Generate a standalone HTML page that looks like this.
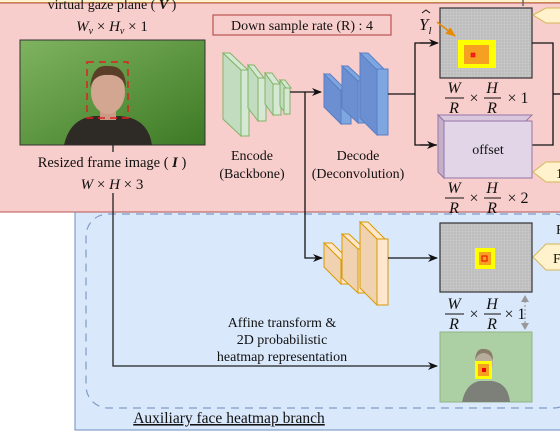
<!DOCTYPE html>
<html><head><meta charset="utf-8"><style>
html,body{margin:0;padding:0;width:560px;height:434px;overflow:hidden;background:#fff}
text{font-family:"Liberation Serif",serif;fill:#111}
</style></head><body>
<svg width="560" height="434" viewBox="0 0 560 434" xmlns="http://www.w3.org/2000/svg">
<defs>
<pattern id="grid" width="3" height="3" patternUnits="userSpaceOnUse">
<rect width="3" height="3" fill="#bdbdbd"/><path d="M0 0H3M0 0V3" stroke="#d0d0d0" stroke-width="0.8"/>
</pattern>
<linearGradient id="gr" x1="0" y1="0" x2="1" y2="1"><stop offset="0" stop-color="#7fb35f"/><stop offset="1" stop-color="#3d7a25"/></linearGradient>
<marker id="ar" markerWidth="10" markerHeight="8" refX="9" refY="4" orient="auto" markerUnits="userSpaceOnUse"><path d="M0 0L10 4L0 8L3 4Z" fill="#111"/></marker>
<marker id="ao" markerWidth="10" markerHeight="8" refX="9" refY="4" orient="auto" markerUnits="userSpaceOnUse"><path d="M0 0L10 4L0 8Z" fill="#e68a00"/></marker>
</defs>
<rect x="0" y="0" width="560" height="3" fill="#fff2cc"/>
<line x1="0" y1="2.5" x2="560" y2="2.5" stroke="#d6b656" stroke-width="1"/>
<rect x="-1" y="3" width="562" height="209" fill="#f8cecc" stroke="#b85450" stroke-width="1"/>
<rect x="75" y="212" width="490" height="218" fill="#dae8fc" stroke="#6c8ebf" stroke-width="1"/>
<rect x="86" y="214" width="490" height="194" rx="22" fill="none" stroke="#7f9cc6" stroke-width="1.2" stroke-dasharray="8 6"/>
<line x1="75" y1="212" x2="560" y2="212" stroke="#b85450"/>

<text x="112" y="9" font-size="14" text-anchor="middle">virtual gaze plane ( <tspan font-weight="bold" font-style="italic">V</tspan> )</text>
<text x="112" y="31" font-size="15" text-anchor="middle"><tspan font-style="italic">W<tspan font-size="10" dy="3">v</tspan></tspan><tspan dy="-3"> × </tspan><tspan font-style="italic">H<tspan font-size="10" dy="3">v</tspan></tspan><tspan dy="-3"> × 1</tspan></text>
<rect x="20" y="40" width="185" height="105" fill="url(#gr)" stroke="#333" stroke-width="1"/>
<path d="M64 145 Q70 118 95 116 L120 116 Q148 118 152 145 Z" fill="#2e2a25"/>
<rect x="100" y="108" width="16" height="12" fill="#c99a86"/>
<ellipse cx="108" cy="92" rx="17" ry="22" fill="#d2a691"/>
<path d="M90 88 Q92 64 108 66 Q126 65 126 88 Q122 74 108 75 Q94 74 90 88Z" fill="#5a3e28"/>
<rect x="87" y="62" width="41" height="56" fill="none" stroke="#e02020" stroke-width="1.5" stroke-dasharray="7 5"/>
<text x="112" y="167" font-size="14.5" text-anchor="middle">Resized frame image ( <tspan font-weight="bold" font-style="italic">I</tspan> )</text>
<text x="112" y="189" font-size="15" text-anchor="middle"><tspan font-style="italic">W</tspan> × <tspan font-style="italic">H</tspan> × 3</text>
<path d="M113 145V152M113 193V366H437" fill="none" stroke="#222" stroke-width="1.3" marker-end="url(#ar)"/>

<rect x="213" y="15" width="178" height="20" fill="none" stroke="#b85450" stroke-width="1.2"/>
<text x="302" y="30" font-size="14" text-anchor="middle">Down sample rate (R) : 4</text>

<g fill="#d5e8d4" stroke="#82b366" stroke-width="1">
<path d="M223 53L241 70V136L223 119Z" fill="#c2dcc0"/><path d="M223 53H230L248 70H241Z"/><rect x="241" y="70" width="8" height="66"/>
<path d="M248 65L258 78V121L248 108Z" fill="#c2dcc0"/><path d="M248 65H254L264 78H258Z"/><rect x="258" y="78" width="8" height="43"/>
<path d="M265 73L273 84V115L265 104Z" fill="#c2dcc0"/><path d="M265 73H272L280 84H273Z"/><rect x="273" y="84" width="8" height="31"/>
<path d="M280 80L286 88V114L280 106Z" fill="#c2dcc0"/><path d="M280 80H285L291 88H286Z"/><rect x="284" y="88" width="6" height="26"/>
</g>
<text x="252" y="160" font-size="14" text-anchor="middle">Encode</text>
<text x="252" y="178" font-size="14" text-anchor="middle">(Backbone)</text>
<path d="M290 92H321" stroke="#111" stroke-width="1.3" marker-end="url(#ar)"/>
<path d="M305 92V258H322" fill="none" stroke="#111" stroke-width="1.3" marker-end="url(#ar)"/>

<g fill="#7ea6e0" stroke="#5a7fc4" stroke-width="1">
<path d="M324 74L341 91V124L324 107Z" fill="#6b8fd0"/><path d="M324 74H330L347 91H341Z"/><rect x="341" y="90" width="10" height="34"/>
<path d="M342 66L358 81V123L342 108Z" fill="#6b8fd0"/><path d="M342 66H348L364 81H358Z"/><rect x="358" y="81" width="11" height="42"/>
<path d="M360 53L377 70V135L360 118Z" fill="#6b8fd0"/><path d="M360 53H368L385 70H377Z"/><rect x="377" y="69" width="11" height="66"/>
</g>
<text x="358" y="160" font-size="14" text-anchor="middle">Decode</text>
<text x="358" y="178" font-size="14" text-anchor="middle">(Deconvolution)</text>
<path d="M388 94H415V43H437M415 94V145H437" fill="none" stroke="#111" stroke-width="1.3"/>
<path d="M420 43H438" stroke="#111" stroke-width="1.3" marker-end="url(#ar)"/>
<path d="M420 145H436" stroke="#111" stroke-width="1.3" marker-end="url(#ar)"/>

<rect x="440" y="8" width="92" height="70" fill="url(#grid)" stroke="#333" stroke-width="1.2"/>
<rect x="458" y="40" width="38" height="28" fill="#ffff00"/>
<rect x="464" y="45" width="25" height="19" fill="#f5a020"/>
<rect x="471" y="53" width="4" height="4" fill="#ff2020" stroke="#d00" stroke-width="0.5"/>
<path d="M437 22L455 36" stroke="#e68a00" stroke-width="1.5" marker-end="url(#ao)"/>
<text x="419" y="30" font-size="17" font-style="italic">Y<tspan font-size="11" dy="4">l</tspan></text>
<path d="M422 13L426 10L430 13" fill="none" stroke="#111" stroke-width="1"/>
<line x1="523" y1="0" x2="523" y2="6" stroke="#666" stroke-width="1.5"/>
<path d="M532 43H553V145H532" fill="none" stroke="#111" stroke-width="1.3"/>
<path d="M553 94H560" stroke="#111" stroke-width="1.3"/>

<g font-size="16" text-anchor="middle" font-style="italic">
<text x="454" y="93">W</text><line x1="445" y1="98" x2="464" y2="98" stroke="#111"/><text x="454" y="113">R</text>
<text x="474" y="103" font-style="normal">×</text>
<text x="492" y="93">H</text><line x1="484" y1="98" x2="501" y2="98" stroke="#111"/><text x="492" y="113">R</text>
<text x="518" y="103" font-style="normal">× 1</text>

<text x="454" y="193">W</text><line x1="445" y1="198" x2="464" y2="198" stroke="#111"/><text x="454" y="213">R</text>
<text x="474" y="203" font-style="normal">×</text>
<text x="492" y="193">H</text><line x1="484" y1="198" x2="501" y2="198" stroke="#111"/><text x="492" y="213">R</text>
<text x="518" y="203" font-style="normal">× 2</text>

<text x="454" y="309">W</text><line x1="445" y1="314" x2="464" y2="314" stroke="#111"/><text x="454" y="329">R</text>
<text x="474" y="319" font-style="normal">×</text>
<text x="492" y="309">H</text><line x1="484" y1="314" x2="501" y2="314" stroke="#111"/><text x="492" y="329">R</text>
<text x="515" y="319" font-style="normal">× 1</text>
</g>

<path d="M438 115H532L526 121H444Z" fill="#d9c8dd" stroke="#9673a6"/>
<path d="M438 115L444 121V178L438 172Z" fill="#c5b0ca" stroke="#9673a6"/>
<rect x="444" y="121" width="88" height="57" fill="#e1d5e7" stroke="#9673a6"/>
<text x="488" y="154" font-size="14" text-anchor="middle">offset</text>

<g fill="#fff2cc" stroke="#d6b656">
<path d="M562 8H546L533 15L546 23H562Z"/>
<path d="M562 162H546L533 172L546 182H562Z"/>
<path d="M562 244H546L533 257L546 270H562Z"/>
</g>
<text x="556" y="178" font-size="14">1</text>
<text x="556" y="234" font-size="14">F</text>
<text x="553" y="263" font-size="14">F</text>

<g fill="#ffe6cc" stroke="#d79b00" stroke-width="1">
<path d="M324 243L341 260V284L324 267Z" fill="#f0d2b0"/><path d="M324 243H332L349 260H341Z"/><rect x="341" y="260" width="11" height="24"/>
<path d="M342 234L358 249V293L342 278Z" fill="#f0d2b0"/><path d="M342 234H349L365 249H358Z"/><rect x="358" y="249" width="11" height="44"/>
<path d="M360 222L377 239V305L360 288Z" fill="#f0d2b0"/><path d="M360 222H368L385 239H377Z"/><rect x="377" y="239" width="11" height="66"/>
</g>
<path d="M388 258H437" stroke="#111" stroke-width="1.3" marker-end="url(#ar)"/>

<rect x="440" y="223" width="92" height="69" fill="url(#grid)" stroke="#333" stroke-width="1.2"/>
<rect x="475" y="248" width="20" height="21" fill="#ffff00"/>
<rect x="479" y="252" width="12" height="13" fill="#f5a020"/>
<rect x="482" y="256" width="5" height="5" fill="none" stroke="#e00" stroke-width="1"/>
<path d="M525 301V324" stroke="#999" stroke-width="1.2" stroke-dasharray="2 2"/>
<path d="M521 302L525 295L529 302Z" fill="#999"/>
<path d="M521 323L525 330L529 323Z" fill="#999"/>

<rect x="440" y="332" width="92" height="70" fill="#adcfa4" stroke="#8fb585"/>
<path d="M462 402 Q466 383 480 381 L492 381 Q508 383 510 402Z" fill="#7d8078"/>
<ellipse cx="484" cy="363" rx="9" ry="12" fill="#b7ad9c"/>
<path d="M475 360 Q476 348 484 349 Q493 349 493 360 Q489 353 484 353 Q478 353 475 360Z" fill="#8a7d6a"/>
<rect x="475" y="361" width="17" height="18" fill="#ffff00"/>
<rect x="478" y="364" width="11" height="12" fill="#f5a020"/>
<rect x="482" y="368" width="4" height="4" fill="#e00"/>

<text x="282" y="327" font-size="14" text-anchor="middle">Affine transform &amp;</text>
<text x="282" y="344" font-size="14" text-anchor="middle">2D probabilistic</text>
<text x="282" y="361" font-size="14" text-anchor="middle">heatmap representation</text>

<text x="229" y="423" font-size="15.5" text-anchor="middle" text-decoration="underline">Auxiliary face heatmap branch</text>
</svg>
</body></html>
